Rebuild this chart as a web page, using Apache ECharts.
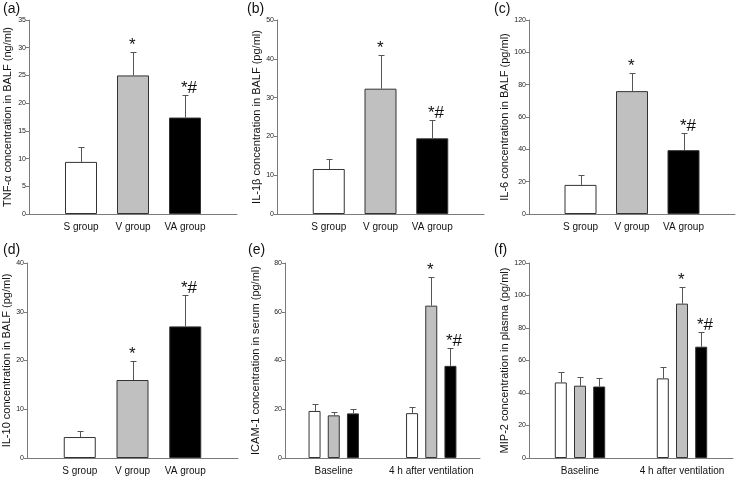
<!DOCTYPE html>
<html><head><meta charset="utf-8">
<script src="https://cdn.jsdelivr.net/npm/echarts@6/dist/echarts.min.js"></script>
<style>html,body{margin:0;padding:0;background:#fff}#c{width:739px;height:479px}</style>
</head><body><div id="c"></div>
<script>
// ---- data ----
const groups = ['S group', 'V group', 'VA group'];
const timepoints = ['Baseline', '4 h after ventilation'];
const groupMarks = ['', '*', '*#'];

const tnfMean = [9.4, 25.0, 17.4];
const tnfErr = [2.7, 4.2, 4.0];
const il1bMean = [11.6, 32.3, 19.5];
const il1bErr = [2.7, 8.7, 4.8];
const il6Mean = [18, 76, 39.5];
const il6Err = [6, 11, 10.5];
const il10Mean = [4.3, 16, 27];
const il10Err = [1.2, 4, 6.4];

// ICAM-1 (serum): per group, [Baseline, 4 h]
const icamS = [19.3, 18.4], icamSErr = [3.0, 2.6];
const icamV = [17.5, 62.5], icamVErr = [1.3, 11.8];
const icamVA = [18.3, 37.8], icamVAErr = [2.0, 7.2];
// MIP-2 (plasma)
const mipS = [46.5, 49], mipSErr = [6.5, 7];
const mipV = [44.5, 95], mipVErr = [5.5, 10.5];
const mipVA = [44, 68.5], mipVAErr = [5.5, 9];
const timeMarksS = ['', ''];
const timeMarksV = ['', '*'];
const timeMarksVA = ['', '*#'];

// ---- styling ----
const SANS = '"Liberation Sans", Arial, sans-serif';
const NARROW = '"Liberation Sans Narrow", "Liberation Sans", Arial, sans-serif';
const barColors = ['#ffffff', '#c0c0c0', '#000000'];
const AXIS_COLOR = '#7a7a7a';

const option = { animation: false, backgroundColor: '#fff', grid: [], xAxis: [], yAxis: [], series: [], graphic: [] };

function errSeries(gi, means, errs, marks, offset) {
  return {
    type: 'custom', xAxisIndex: gi, yAxisIndex: gi, z: 5, clip: false,
    encode: { x: 0, y: 1 },
    data: means.map((m, k) => [k, m, errs[k]]),
    renderItem: function (params, api) {
      const x = api.value(0), m = api.value(1), e = api.value(2);
      const b = api.coord([x, m]);
      const t = api.coord([x, m + e]);
      const cx = Math.round(b[0] + offset) + 0.5;
      const ty = Math.round(t[1]) + 0.5;
      const children = [
        { type: 'line', shape: { x1: cx, y1: b[1], x2: cx, y2: ty }, style: { stroke: '#555', lineWidth: 1 } },
        { type: 'line', shape: { x1: cx - 3, y1: ty, x2: cx + 3, y2: ty }, style: { stroke: '#555', lineWidth: 1 } }
      ];
      const mk = marks[params.dataIndex];
      if (mk) {
        children.push({ type: 'text', style: { text: mk, x: cx - 4.5, y: ty + 1, align: 'left', verticalAlign: 'bottom', font: '17px ' + SANS, fill: '#111' } });
      }
      return { type: 'group', children: children };
    }
  };
}

function yAxisDef(gi, max, interval, name, nameGap) {
  return {
    type: 'value', gridIndex: gi, min: 0, max: max, interval: interval,
    axisLine: { show: true, lineStyle: { color: AXIS_COLOR, width: 1 } },
    axisTick: { show: true, length: 3, lineStyle: { color: AXIS_COLOR } },
    axisLabel: { fontSize: 7, fontFamily: NARROW, color: '#222', margin: 3 },
    splitLine: { show: false },
    name: name, nameLocation: 'middle', nameGap: nameGap,
    nameTextStyle: { fontSize: 11, fontFamily: SANS, color: '#111' }
  };
}

function singlePanel(gi, box, means, errs, max, interval, name, nameGap) {
  option.grid.push(Object.assign({ containLabel: false }, box));
  option.xAxis.push({
    type: 'category', gridIndex: gi, data: [''].concat(groups, ['']), boundaryGap: false,
    axisTick: { show: false },
    axisLine: { lineStyle: { color: AXIS_COLOR, width: 1 } },
    axisLabel: { interval: 0, fontFamily: NARROW, fontSize: 10, color: '#111', margin: 8 },
    splitLine: { show: false }
  });
  option.yAxis.push(yAxisDef(gi, max, interval, name, nameGap));
  option.series.push({
    type: 'bar', xAxisIndex: gi, yAxisIndex: gi, barWidth: 32,
    itemStyle: { borderColor: '#333', borderWidth: 1 },
    data: [null].concat(means.map((v, k) => ({ value: v, itemStyle: { color: barColors[k] } })), [null])
  });
  const s = errSeries(gi, means, errs, groupMarks, 0);
  s.data = means.map((m, k) => [k + 1, m, errs[k]]);
  option.series.push(s);
}

function groupedPanel(gi, box, sets, max, interval, name, nameGap) {
  option.grid.push(Object.assign({ containLabel: false }, box));
  option.xAxis.push({
    type: 'category', gridIndex: gi, data: timepoints, boundaryGap: true,
    axisTick: { show: false },
    axisLine: { lineStyle: { color: AXIS_COLOR, width: 1 } },
    axisLabel: { interval: 0, fontFamily: NARROW, fontSize: 10, color: '#111', margin: 8 },
    splitLine: { show: false }
  });
  option.yAxis.push(yAxisDef(gi, max, interval, name, nameGap));
  const bw = 12, gapRatio = 0.6;
  sets.forEach((set, k) => {
    option.series.push({
      type: 'bar', xAxisIndex: gi, yAxisIndex: gi, barWidth: bw, barGap: (gapRatio * 100) + '%',
      itemStyle: { color: barColors[k], borderColor: '#333', borderWidth: 1 },
      data: set[0]
    });
  });
  sets.forEach((set, k) => {
    option.series.push(errSeries(gi, set[0], set[1], set[2], (k - 1) * bw * (1 + gapRatio)));
  });
}

singlePanel(0, { left: 29, top: 20, width: 208, height: 194 }, tnfMean, tnfErr, 35, 5, 'TNF-\u03b1 concentration in BALF (ng/ml)', 16);
singlePanel(1, { left: 277, top: 20, width: 207, height: 194 }, il1bMean, il1bErr, 50, 10, 'IL-1\u03b2 concentration in BALF (pg/ml)', 14);
singlePanel(2, { left: 529, top: 20, width: 206, height: 194 }, il6Mean, il6Err, 120, 20, 'IL-6 concentration in BALF (pg/ml)', 19);
singlePanel(3, { left: 27, top: 263, width: 211, height: 195 }, il10Mean, il10Err, 40, 10, 'IL-10 concentration in BALF (pg/ml)', 15);
groupedPanel(4, { left: 285, top: 263, width: 195, height: 195 }, [[icamS, icamSErr, timeMarksS], [icamV, icamVErr, timeMarksV], [icamVA, icamVAErr, timeMarksVA]], 80, 20, 'ICAM-1 concentration in serum (pg/ml)', 24);
groupedPanel(5, { left: 529, top: 263, width: 204, height: 195 }, [[mipS, mipSErr, timeMarksS], [mipV, mipVErr, timeMarksV], [mipVA, mipVAErr, timeMarksVA]], 120, 20, 'MIP-2 concentration in plasma (pg/ml)', 19);

const panelLetters = ['(a)', '(b)', '(c)', '(d)', '(e)', '(f)'];
const letterPos = [[3, 2], [247, 2], [494, 2], [3, 243], [248, 243], [494, 243]];
panelLetters.forEach((t, i) => {
  option.graphic.push({ type: 'text', left: letterPos[i][0], top: letterPos[i][1], style: { text: t, font: '14px ' + SANS, fill: '#111' } });
});

const chart = echarts.init(document.getElementById('c'), null, { renderer: 'canvas' });
chart.setOption(option);
</script>
</body></html>
